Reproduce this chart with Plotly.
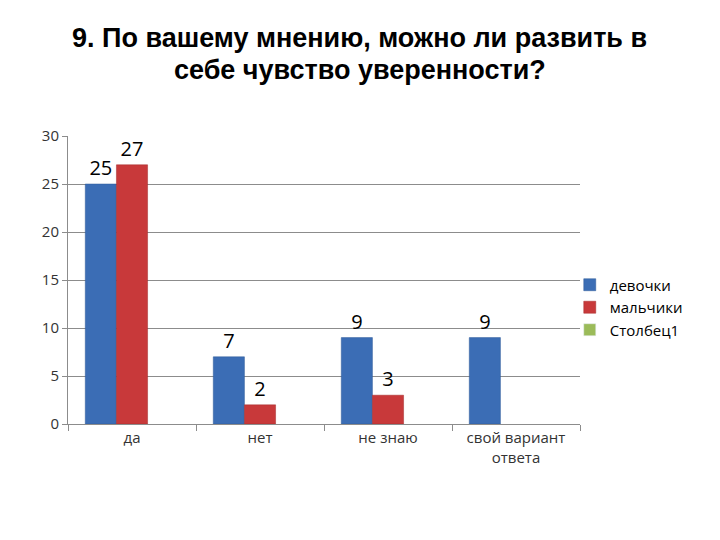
import plotly.graph_objects as go

categories = ["да", "нет", "не знаю", "свой вариант<br>ответа"]
girls = [25, 7, 9, 9]
boys = [27, 2, 3, None]
col1 = [None, None, None, None]
series_names = ["девочки", "мальчики", "Столбец1"]
title_lines = ["9. По вашему мнению, можно ли развить в", "себе чувство уверенности?"]

lab_font = dict(size=20, color="black", family="Open Sans, Noto Sans, sans-serif")

fig = go.Figure()
fig.add_bar(x=categories, y=girls, name=series_names[0],
            marker=dict(color="#3b6db5", line=dict(color="#2f5a99", width=0.5)),
            text=[str(v) if v is not None else "" for v in girls],
            textposition="outside", cliponaxis=False, textfont=lab_font)
fig.add_bar(x=categories, y=boys, name=series_names[1],
            marker=dict(color="#c8393a", line=dict(color="#a52c2d", width=0.5)),
            text=[str(v) if v is not None else "" for v in boys],
            textposition="outside", cliponaxis=False, textfont=lab_font)
fig.add_bar(x=categories, y=col1, name=series_names[2],
            marker=dict(color="#9bbb59"))

title_font = dict(family="Liberation Sans, Arial, sans-serif", size=27, color="black")
for i, line in enumerate(title_lines):
    fig.add_annotation(text="<b>" + line + "</b>", xref="paper", yref="paper",
                       x=0.57, y=1.0, yshift=98 - 32 * i, xanchor="center", yanchor="middle",
                       showarrow=False, font=title_font)

fig.update_layout(
    width=720, height=540,
    margin=dict(l=68, r=140, t=136, b=116),
    paper_bgcolor="white", plot_bgcolor="white",
    barmode="group", bargap=0.27, bargroupgap=0,
    showlegend=True,
    legend=dict(x=0.98, xanchor="left", y=0.54, yanchor="top",
                font=dict(family="Open Sans, Noto Sans, sans-serif", size=15, color="black"),
                itemwidth=30, tracegroupgap=0, bgcolor="rgba(0,0,0,0)"),
    font=dict(family="Open Sans, Noto Sans, sans-serif"),
)
fig.update_yaxes(range=[0, 30], dtick=5, showgrid=True, gridcolor="#8c8c8c", gridwidth=1,
                 showline=True, linecolor="#8c8c8c", ticks="outside", ticklen=5, tickcolor="#8c8c8c",
                 tickfont=dict(size=15, color="#333333"), zeroline=False)
fig.update_xaxes(showline=True, linecolor="#8c8c8c", ticks="outside", ticklen=6, tickcolor="#8c8c8c",
                 tickson="boundaries", tickfont=dict(size=15, color="#333333"), showgrid=False)

fig.write_html("out.html")
